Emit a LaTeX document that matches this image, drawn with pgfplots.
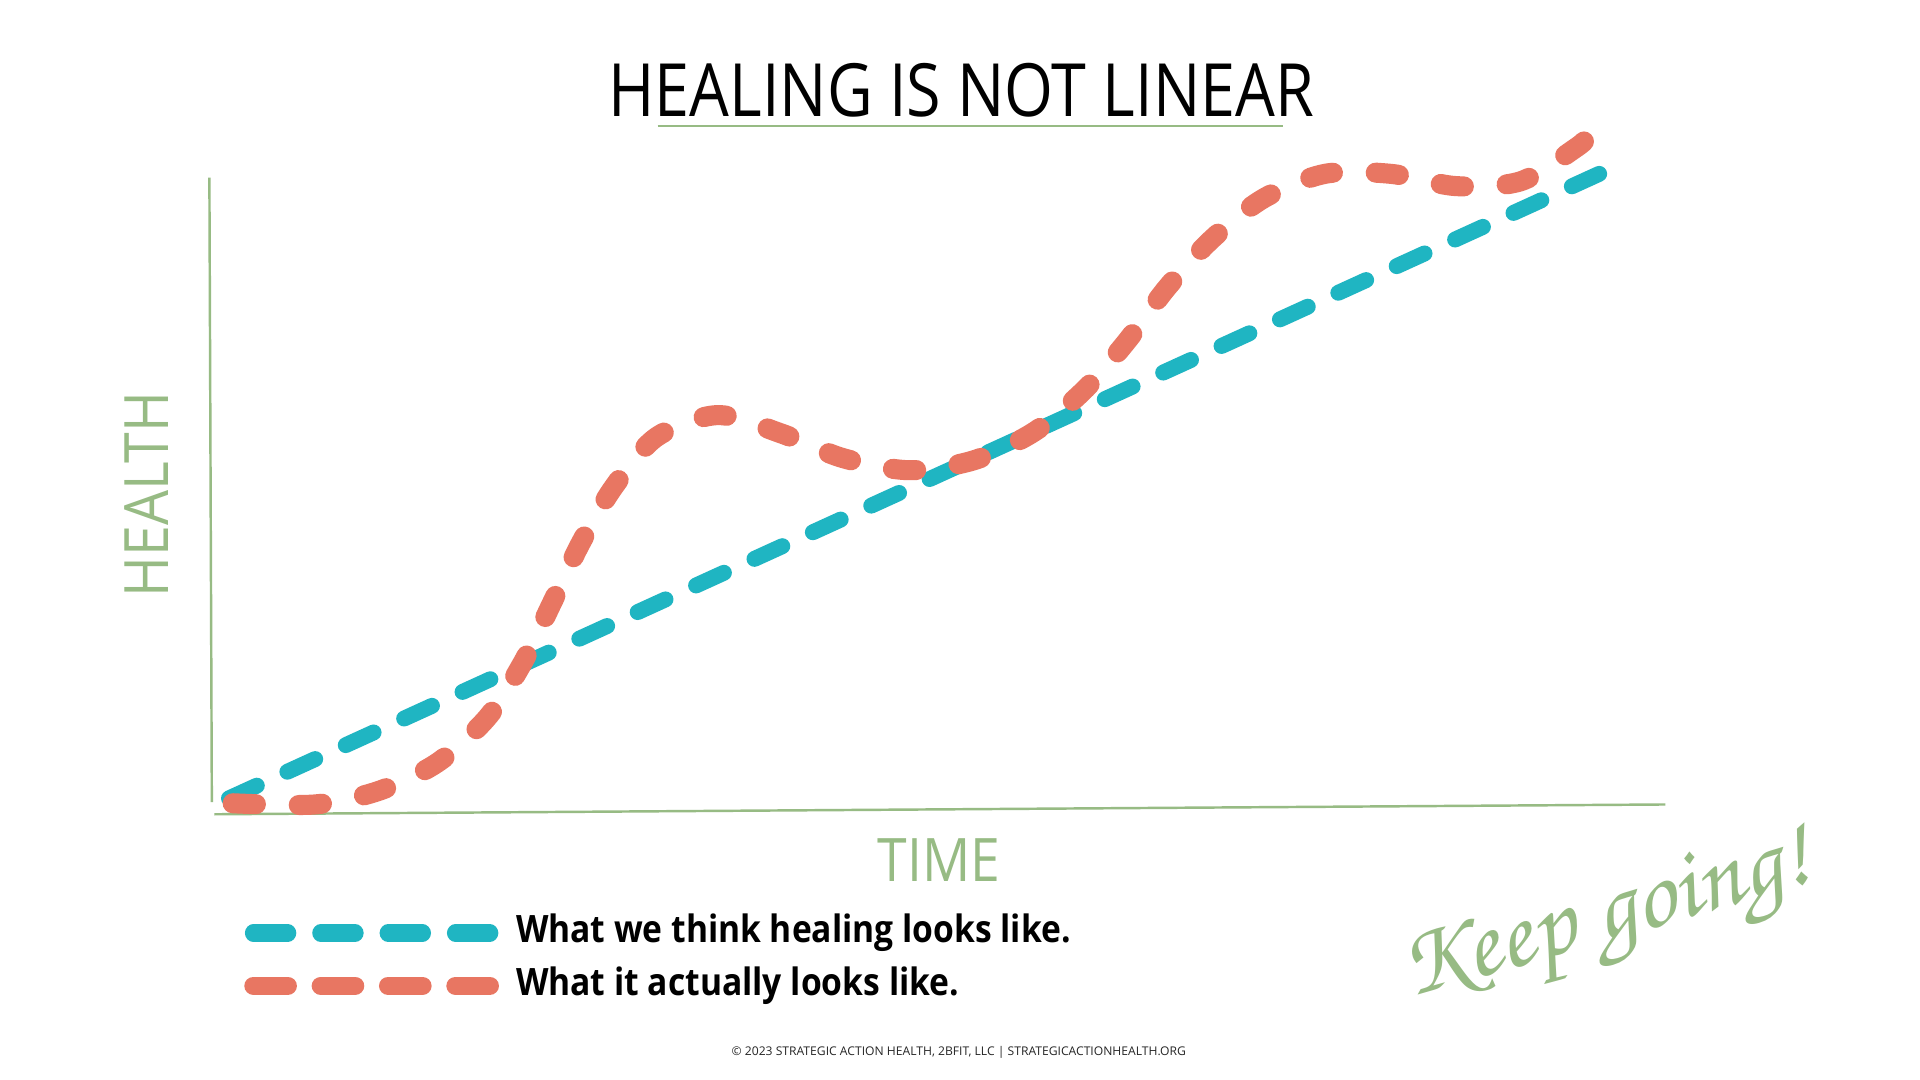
\documentclass[border=0pt]{standalone}
\usepackage{pgfplots}
\pgfplotsset{compat=1.18}
\usepackage{graphicx}
\usepackage{fontspec}
\setmainfont{Open Sans}
\definecolor{teal1}{RGB}{31,181,194}
\definecolor{coral}{RGB}{232,118,98}
\definecolor{sage}{RGB}{151,187,132}
\begin{document}
\begin{tikzpicture}
\begin{axis}[
  scale only axis, width=784pt, height=441pt,
  xmin=0, xmax=1568, ymin=0, ymax=882,
  hide axis, clip=false,
]
\fill[white] (axis cs:0,0) rectangle (axis cs:1568,882);
% axis lines
\draw[sage, line width=1pt] (axis cs:171,737) -- (axis cs:173,227);
\draw[sage, line width=1pt] (axis cs:175,217) -- (axis cs:1360,225);
% title
\node[anchor=base, inner sep=0pt, font=\fontsize{30}{36}\selectfont] at (axis cs:785,787) {\resizebox{288pt}{\height}{HEALING IS NOT LINEAR}};
\draw[sage, line width=1pt] (axis cs:537,779) -- (axis cs:1048,779);
% axis labels
\node[anchor=base, inner sep=0pt, rotate=90, text=sage, font=\fontsize{25}{30}\selectfont] at (axis cs:138,478) {\resizebox{84pt}{\height}{HEALTH}};
\node[anchor=base, inner sep=0pt, text=sage, font=\fontsize{24.5}{30}\selectfont] at (axis cs:767,162) {\resizebox{50pt}{\height}{TIME}};
% data
\addplot[teal1, no markers, line width=6.5pt, line cap=round, dash pattern=on 12.5pt off 13.7pt]
  coordinates {(187,230) (1306,740)};
\addplot[coral, no markers, smooth, tension=0.5, line width=8.2pt, line cap=round, dash pattern=on 9.5pt off 17.5pt]
  coordinates {(190,226) (257,225) (309,236) (357,259) (398,296) (427,341) (451,390) (474,438) (501,484) (536,525) (586,543) (638,528) (688,508) (742,498) (795,506) (844,529) (885,563) (920,603) (953,647) (990,687) (1032,720) (1082,740) (1136,740) (1189,730) (1242,734) (1288,762) (1297,771)};
% legend
\draw[teal1, line width=7pt, line cap=round, dash pattern=on 14pt off 13.5pt] (axis cs:207,120) -- (axis cs:400,120);
\draw[coral, line width=7.5pt, line cap=round, dash pattern=on 14pt off 13.5pt] (axis cs:207,77) -- (axis cs:400,77);
\node[anchor=base west, inner sep=0pt, font=\bfseries\fontsize{15.4}{18}\selectfont] at (axis cs:421,112) {\resizebox{226.5pt}{\height}{What we think healing looks like.}};
\node[anchor=base west, inner sep=0pt, font=\bfseries\fontsize{15.4}{18}\selectfont] at (axis cs:421,69) {\resizebox{181pt}{\height}{What it actually looks like.}};
% keep going
\node[rotate=16, inner sep=0pt, text=sage] at (axis cs:1313,128) {\resizebox{172pt}{!}{\fontencoding{OT1}\fontfamily{pzc}\fontseries{mb}\fontshape{it}\selectfont Keep going!}};
% footer
\node[anchor=base, inner sep=0pt, text=black!85, font=\fontsize{4.9}{6}\selectfont] at (axis cs:783,20) {\resizebox{185.5pt}{\height}{© 2023 STRATEGIC ACTION HEALTH, 2BFIT, LLC | STRATEGICACTIONHEALTH.ORG}};
\end{axis}
\end{tikzpicture}
\end{document}
